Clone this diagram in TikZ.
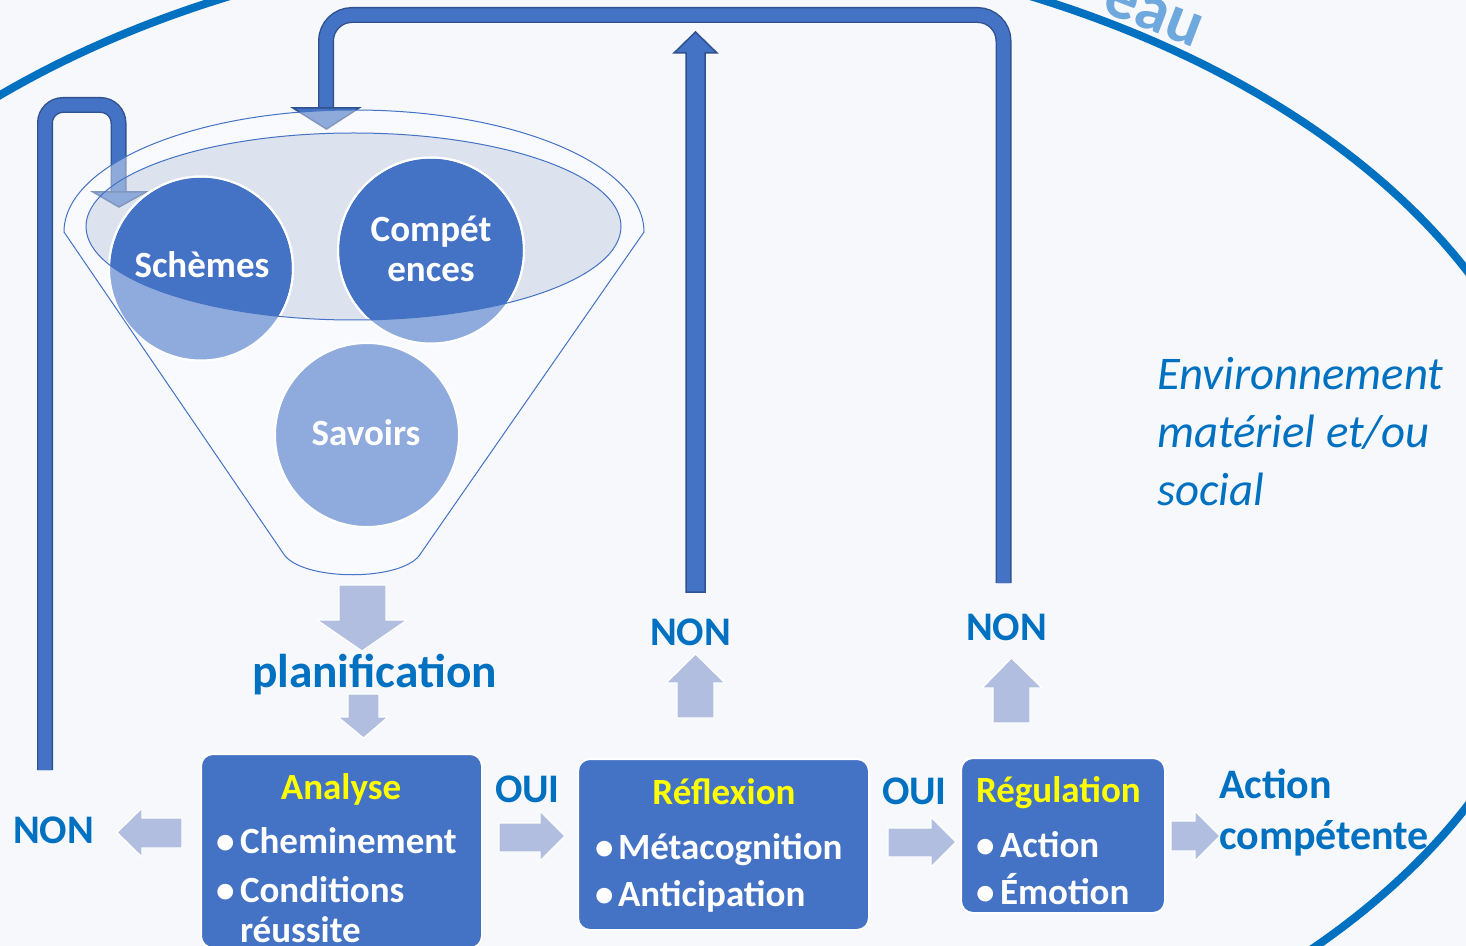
\documentclass[tikz,border=0pt]{standalone}
\usepackage{fontspec}
\setmainfont{Carlito}
\definecolor{bg}{HTML}{F6F8FC}
\definecolor{txtblue}{HTML}{0070C0}
\definecolor{boxblue}{HTML}{4472C4}
\definecolor{darkblue}{HTML}{2F528F}
\definecolor{lightarrow}{HTML}{B1BEDF}
\definecolor{lightcirc}{HTML}{8FAADC}
\definecolor{rimfill}{HTML}{C6D0E4}
\definecolor{eaublue}{HTML}{6FA8DC}
\definecolor{ylw}{HTML}{FFFF00}
\begin{document}
\begin{tikzpicture}[x=0.5pt,y=-0.5pt,
  every node/.style={inner sep=0pt, outer sep=0pt},
  lbl/.style={text=txtblue, font=\fontsize{20.3pt}{24pt}\selectfont\bfseries, anchor=base west},
  bigbl/.style={text=txtblue, font=\fontsize{23.7pt}{28pt}\selectfont\bfseries, anchor=base west},
  acttxt/.style={text=txtblue, font=\fontsize{21pt}{26pt}\selectfont\bfseries, anchor=base west},
  envtxt/.style={text=txtblue, font=\fontsize{23.4pt}{28pt}\selectfont\itshape, anchor=base west},
  boxtitle/.style={text=ylw, font=\fontsize{18.5pt}{22pt}\selectfont\bfseries, anchor=base},
  boxitem/.style={text=white, font=\fontsize{18.5pt}{22pt}\selectfont\bfseries, anchor=base west},
  circtxt/.style={text=white, font=\fontsize{18.5pt}{22pt}\selectfont\bfseries, anchor=base},
  stepbox/.style={rectangle, draw=white, line width=1pt, fill=boxblue, rounded corners=6pt},
  ball/.style={circle, draw=white, line width=1pt, fill=boxblue},
  pipeout/.style={draw=darkblue, line width=8pt},
  pipein/.style={draw=boxblue, line width=6.6pt},
  headstyle/.style={fill=boxblue, draw=darkblue, line width=0.75pt, line join=miter},
  blockarrow/.style={fill=lightarrow, draw=white, line width=0.6pt, line join=miter},
  funnelshape/.style={insert path={(64,232) arc[start angle=180, end angle=360, x radius=290, y radius=122] -- (421,553) .. controls (405,582) and (300,582) .. (283,553) -- cycle}},
]
\useasboundingbox (0,0) rectangle (1466,946);
\clip (0,0) rectangle (1466,946);
\fill[bg] (0,0) rectangle (1466,946);

% environment ellipse
\draw[txtblue, line width=4pt] (630,538.5) ellipse[x radius=935, y radius=600];
\node[anchor=base west, rotate=-21, text=eaublue, font=\fontsize{33pt}{33pt}\selectfont\bfseries] (eau) at (1100,12) {eau};

% funnel opening (under pipes)
\fill[rimfill] (353.5,226.5) ellipse[x radius=267.5, y radius=93.5];

% feedback pipes
\coordinate (lpA) at (45,770);
\coordinate (lpB) at (45,105);
\coordinate (lpC) at (118.5,105);
\coordinate (lpD) at (118.5,193);
\draw[pipeout, rounded corners=9pt] (lpA) -- (lpB) -- (lpC) -- (lpD);
\draw[pipein, rounded corners=9pt] (lpA) -- (lpB) -- (lpC) -- (lpD);
\draw[headstyle] (93,192) -- (146,192) -- (119,207) -- cycle;

\coordinate (tpA) at (1003.5,583);
\coordinate (tpB) at (1003.5,15);
\coordinate (tpC) at (326,15);
\coordinate (tpD) at (326,109);
\draw[pipeout, rounded corners=13pt] (tpA) -- (tpB) -- (tpC) -- (tpD);
\draw[pipein, rounded corners=13pt] (tpA) -- (tpB) -- (tpC) -- (tpD);
\draw[headstyle] (293,108) -- (359,108) -- (326.5,129) -- cycle;

\draw[headstyle] (686,592) -- (686,53) -- (674,53) -- (695.5,32) -- (717,53) -- (705,53) -- (705,592) -- cycle;

% funnel body veil
\fill[white, fill opacity=0.4, funnelshape];

% circles
\node[ball, minimum size=92pt] (schemes) at (201,268.5) {};
\node[ball, minimum size=93pt] (competences) at (431,250.5) {};
\node[ball, minimum size=92pt, fill=lightcirc] (savoirs) at (367,435) {};
\begin{scope}
  \clip (201,268.5) circle[radius=92];
  \fill[lightcirc, even odd rule] (0,0) rectangle (1466,946) (353.5,226.5) ellipse[x radius=267.5, y radius=93.5];
\end{scope}
\begin{scope}
  \clip (431,250.5) circle[radius=93];
  \fill[lightcirc, even odd rule] (0,0) rectangle (1466,946) (353.5,226.5) ellipse[x radius=267.5, y radius=93.5];
\end{scope}
\draw[white, line width=1pt] (schemes.center) circle[radius=92];
\draw[white, line width=1pt] (competences.center) circle[radius=93];

% funnel outlines
\draw[boxblue, line width=0.5pt, funnelshape];
\draw[boxblue, line width=0.5pt] (353.5,226.5) ellipse[x radius=267.5, y radius=93.5];

\node[circtxt] (schemesT) at (202,278) {Schèmes};
\node[circtxt] (compT1) at (431,242) {Compét};
\node[circtxt] (compT2) at (431,282) {ences};
\node[circtxt] (savoirsT) at (366,445) {Savoirs};

% light block arrows
\draw[blockarrow] (339,585) -- (386,585) -- (386,620) -- (407,620) -- (362,651) -- (317,620) -- (339,620) -- cycle;
\draw[blockarrow] (348,694) -- (379,694) -- (379,717) -- (388,717) -- (363.5,738) -- (338,717) -- (348,717) -- cycle;
\draw[blockarrow] (182,818) -- (182,848) -- (142,848) -- (142,857) -- (117,832.5) -- (142,808) -- (142,818) -- cycle;
\draw[blockarrow] (499,823) -- (540,823) -- (540,811) -- (565,836) -- (540,861) -- (540,852) -- (499,852) -- cycle;
\draw[blockarrow] (888,828) -- (931,828) -- (931,817) -- (956,842) -- (931,867) -- (931,857) -- (888,857) -- cycle;
\draw[blockarrow] (1171,821) -- (1195,821) -- (1195,811) -- (1220,836) -- (1195,861) -- (1195,851) -- (1171,851) -- cycle;
\draw[blockarrow] (993,723) -- (993,688) -- (982,688) -- (1011.5,658) -- (1042,688) -- (1030,688) -- (1030,723) -- cycle;
\draw[blockarrow] (677,718) -- (677,683) -- (666,683) -- (695.5,654) -- (725,683) -- (714,683) -- (714,718) -- cycle;

% boxes
\node[stepbox, minimum width=140.5pt, minimum height=97pt] (analyse) at (341.5,851) {};
\node[stepbox, minimum width=145.5pt, minimum height=85.5pt] (reflexion) at (723.5,844.5) {};
\node[stepbox, minimum width=102pt, minimum height=77.5pt] (regulation) at (1063,835.5) {};

\node[boxtitle] (analyseT) at (341,799) {Analyse};
\node[boxitem] (aB1) at (216,853) {•};
\node[boxitem] (aI1) at (240,853) {Cheminement};
\node[boxitem] (aB2) at (216,902) {•};
\node[boxitem] (aI2) at (240,902) {Conditions};
\node[boxitem] (aI3) at (240,942) {réussite};

\node[boxtitle] (reflexionT) at (724,804) {Réflexion};
\node[boxitem] (rB1) at (595,859) {•};
\node[boxitem] (rI1) at (618,859) {Métacognition};
\node[boxitem] (rB2) at (595,906) {•};
\node[boxitem] (rI2) at (618,906) {Anticipation};

\node[boxtitle, anchor=base west] (regulationT) at (976,802) {Régulation};
\node[boxitem] (gB1) at (976,857) {•};
\node[boxitem] (gI1) at (1000,857) {Action};
\node[boxitem] (gB2) at (976,904) {•};
\node[boxitem] (gI2) at (1000,904) {Émotion};

% labels
\node[lbl] (oui1) at (495,802) {OUI};
\node[lbl] (oui2) at (882,804) {OUI};
\node[lbl] (non1) at (13,843) {NON};
\node[lbl] (non2) at (650,645) {NON};
\node[lbl] (non3) at (966,640) {NON};
\node[bigbl] (planif) at (252,687) {planification};
\node[acttxt] (act1) at (1219,798) {Action};
\node[acttxt] (act2) at (1219,849) {compétente};
\node[envtxt] (env1) at (1157,390) {Environnement};
\node[envtxt] (env2) at (1157,447) {matériel et/ou};
\node[envtxt] (env3) at (1157,505) {social};
\end{tikzpicture}
\end{document}
